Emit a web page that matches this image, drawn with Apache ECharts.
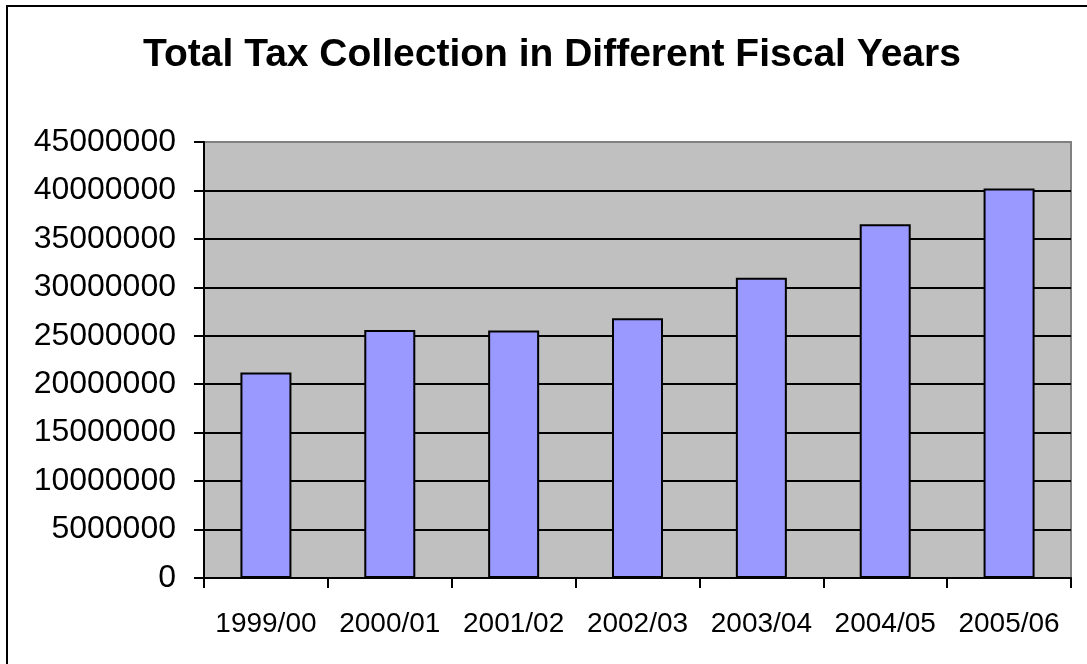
<!DOCTYPE html>
<html>
<head>
<meta charset="utf-8">
<script src="https://cdn.jsdelivr.net/npm/echarts@6/dist/echarts.min.js"></script>
<style>
  html, body { margin: 0; padding: 0; background: #fff; }
  #chart { width: 1087px; height: 664px; }
</style>
</head>
<body>
<div id="chart"></div>
<script>
const years = ['1999/00', '2000/01', '2001/02', '2002/03', '2003/04', '2004/05', '2005/06']
const taxCollection = [21200000, 25600000, 25550000, 26800000, 31000000, 36500000, 40200000]

const chart = echarts.init(document.getElementById('chart'))
chart.setOption({
  animation: false,
  textStyle: { fontFamily: 'Liberation Sans, Arial, sans-serif', color: '#000' },
  title: {
    text: 'Total Tax Collection in Different Fiscal Years',
    left: 547,
    textAlign: 'center',
    top: 31,
    textStyle: { fontSize: 39, fontWeight: 'bold', color: '#000', fontFamily: 'Liberation Sans, Arial, sans-serif' }
  },
  // outer frame of the chart
  graphic: [{
    type: 'rect',
    shape: { x: 7, y: 6, width: 1100, height: 700 },
    style: { fill: 'none', stroke: '#000', lineWidth: 2 },
    silent: true
  }],
  grid: {
    left: 204,
    right: 16,
    top: 142,
    bottom: 86,
    show: true,
    backgroundColor: '#C0C0C0',
    borderColor: '#808080',
    borderWidth: 2
  },
  xAxis: {
    type: 'category',
    data: years,
    axisLine: { lineStyle: { color: '#000', width: 2 } },
    axisTick: { show: true, length: 10, lineStyle: { color: '#000', width: 2 } },
    axisLabel: { fontSize: 28, color: '#000', margin: 32, interval: 0 }
  },
  yAxis: {
    type: 'value',
    min: 0,
    max: 45000000,
    interval: 5000000,
    axisLine: { show: true, lineStyle: { color: '#000', width: 2 } },
    axisTick: { show: true, length: 10, lineStyle: { color: '#000', width: 2 } },
    axisLabel: { fontSize: 32, color: '#000', margin: 28, formatter: (v) => String(v) },
    splitLine: { show: true, showMaxLine: false, lineStyle: { color: '#000', width: 2 } }
  },
  series: [{
    type: 'bar',
    data: taxCollection,
    barWidth: 51,
    itemStyle: { color: '#9999FF', borderColor: '#000', borderWidth: 2 }
  }]
})
</script>
</body>
</html>
